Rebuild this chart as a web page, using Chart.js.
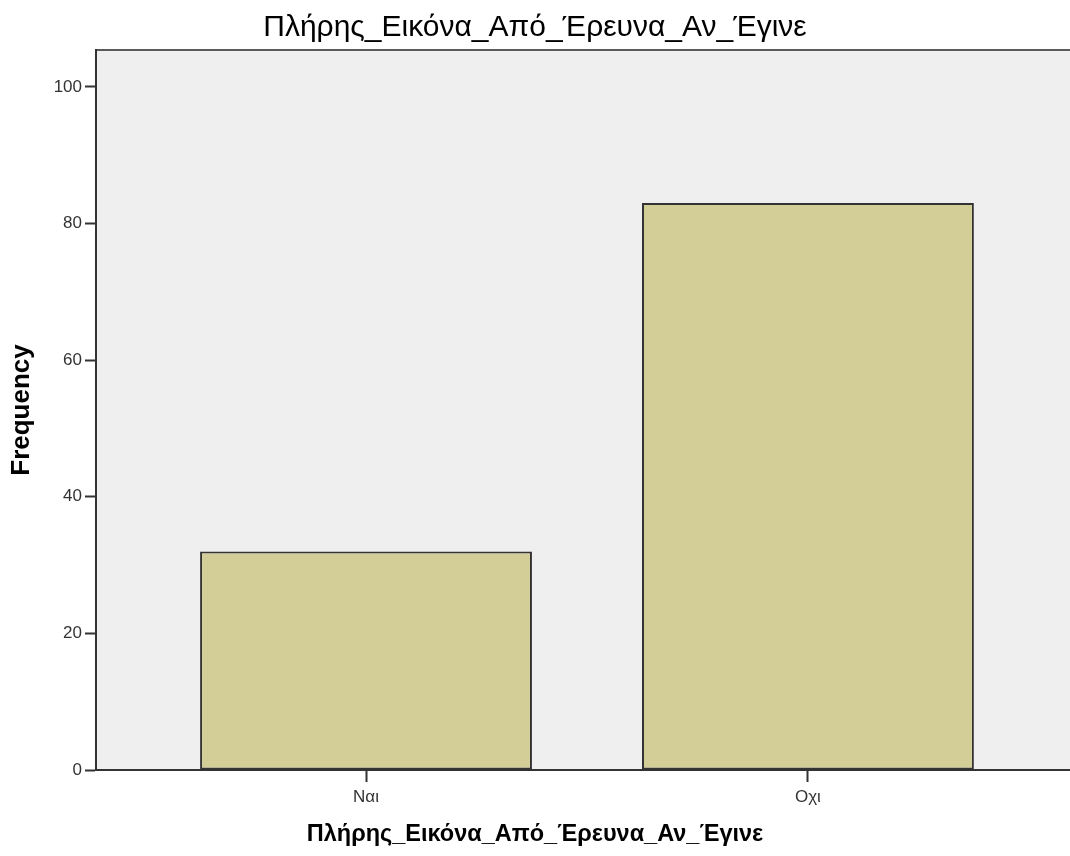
<!DOCTYPE html>
<html>
<head>
<meta charset="utf-8">
<script src="https://cdn.jsdelivr.net/npm/chart.js@4"></script>
<style>
html,body{margin:0;padding:0;background:#fff;}
#wrap{width:1070px;height:856px;}
</style>
</head>
<body>
<div id="wrap"><canvas id="c" width="1070" height="856"></canvas></div>
<script>
const chartTitle = "Πλήρης_Εικόνα_Από_Έρευνα_Αν_Έγινε";
const xAxisTitle = "Πλήρης_Εικόνα_Από_Έρευνα_Αν_Έγινε";
const yAxisTitle = "Frequency";
const categories = ["Ναι", "Οχι"];
const frequencies = [32, 83];
const yTicks = [0, 20, 40, 60, 80, 100];

const FONT = 'Arial, "Liberation Sans", sans-serif';

const plotBg = {
  id: 'plotBg',
  beforeDraw(chart) {
    const {ctx, chartArea: a} = chart;
    ctx.save();
    ctx.fillStyle = '#efefef';
    ctx.fillRect(a.left, a.top, a.right - a.left, a.bottom - a.top);
    ctx.strokeStyle = '#5a5a5a';
    ctx.lineWidth = 2;
    ctx.beginPath();
    ctx.moveTo(a.left, a.top);
    ctx.lineTo(a.right, a.top);
    ctx.stroke();
    ctx.restore();
  }
};

new Chart(document.getElementById('c'), {
  type: 'bar',
  data: {
    datasets: [{
      data: categories.map((c, i) => ({x: i, y: frequencies[i]})),
      backgroundColor: '#d3ce98',
      borderColor: '#333333',
      borderWidth: 2,
      borderSkipped: false,
      categoryPercentage: 1,
      barPercentage: 0.751
    }]
  },
  options: {
    responsive: false,
    animation: false,
    layout: {padding: 0},
    plugins: {
      legend: {display: false},
      tooltip: {enabled: false},
      title: {
        display: true,
        text: chartTitle,
        color: '#000',
        font: {family: FONT, size: 30, weight: 'normal'},
        padding: {top: 10, bottom: 4}
      },
      subtitle: {
        display: true,
        text: xAxisTitle,
        position: 'bottom',
        color: '#000',
        font: {family: FONT, size: 23.5, weight: 'bold'},
        padding: {top: 0, bottom: 7.8}
      }
    },
    scales: {
      x: {
        type: 'linear',
        offset: false,
        min: -0.611,
        max: 1.593,
        afterBuildTicks(scale) {
          scale.ticks = categories.map((c, i) => ({value: i}));
        },
        afterFit(scale) { scale.height = 50; },
        ticks: {
          callback: (v) => categories[v] ?? '',
          color: '#333',
          font: {family: FONT, size: 17},
          padding: 5,
          maxRotation: 0,
          autoSkip: false
        },
        grid: {offset: false, drawOnChartArea: false, drawTicks: true, tickLength: 12, tickColor: '#333', tickWidth: 2},
        border: {display: true, color: '#333', width: 2}
      },
      y: {
        min: 0,
        max: 105.4,
        afterBuildTicks(scale) {
          scale.ticks = yTicks.map(v => ({value: v}));
        },
        afterFit(scale) { scale.width = 96; },
        title: {
          display: true,
          text: yAxisTitle,
          color: '#000',
          font: {family: FONT, size: 26, weight: 'bold'},
          padding: {top: 6, bottom: 0}
        },
        ticks: {
          color: '#333',
          font: {family: FONT, size: 17},
          padding: 3
        },
        grid: {drawOnChartArea: false, drawTicks: true, tickLength: 11, tickColor: '#333', tickWidth: 2},
        border: {display: true, color: '#333', width: 2}
      }
    }
  },
  plugins: [plotBg]
});
</script>
</body>
</html>
